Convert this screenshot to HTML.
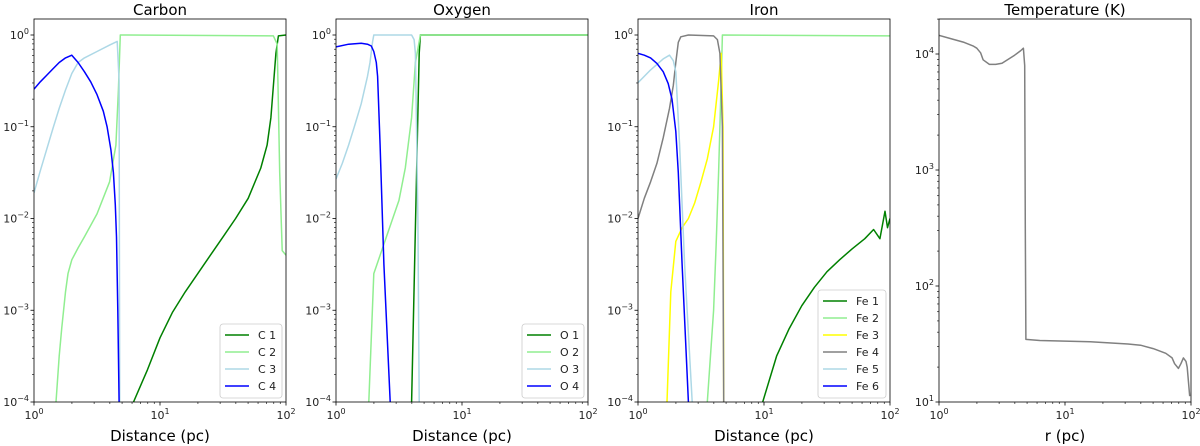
<!DOCTYPE html>
<html><head><meta charset="utf-8"><style>
body{margin:0;background:#fff;}
svg{display:block;font-family:"DejaVu Sans","Liberation Sans",sans-serif;}
</style></head><body>
<svg id="fig" width="1200" height="446" viewBox="0 0 1200 446"></svg>
<script>
// ---- data (x as log10 distance, y as log10 value) ----
const carbonNames = ["C 1","C 2","C 3","C 4"];
const c1x=[0.79,0.9,1.0,1.1,1.2,1.3,1.4,1.5,1.6,1.7,1.8,1.85,1.88,1.9,1.92,1.94,2];
const c1y=[-4,-3.65,-3.3,-3.02,-2.8,-2.6,-2.4,-2.2,-2.0,-1.78,-1.45,-1.2,-0.9,-0.55,-0.2,-0.01,0];
const c2x=[0.175,0.2,0.22,0.25,0.27,0.3,0.35,0.4,0.5,0.6,0.65,0.67,0.685,1.9,1.93,1.95,1.97,2];
const c2y=[-4,-3.5,-3.2,-2.8,-2.6,-2.45,-2.32,-2.2,-1.95,-1.6,-1.2,-0.6,0,-0.01,-0.1,-1.5,-2.35,-2.4];
const c3x=[0,0.05,0.1,0.15,0.2,0.25,0.3,0.35,0.4,0.5,0.6,0.66,0.675,0.68];
const c3y=[-1.72,-1.48,-1.25,-1.02,-0.8,-0.6,-0.42,-0.3,-0.25,-0.18,-0.11,-0.07,-0.5,-4];
const c4x=[0,0.05,0.1,0.15,0.2,0.25,0.30,0.35,0.40,0.45,0.50,0.55,0.58,0.61,0.63,0.645,0.655,0.665,0.675];
const c4y=[-0.59,-0.51,-0.44,-0.37,-0.3,-0.25,-0.22,-0.3,-0.40,-0.51,-0.65,-0.83,-1.0,-1.25,-1.5,-1.85,-2.2,-3,-4];

const oxyNames = ["O 1","O 2","O 3","O 4"];
const o1x=[0.6,0.64,0.66,0.67,2]; const o1y=[-4,-1.5,-0.2,0,0];
const o2x=[0.26,0.3,0.35,0.4,0.5,0.55,0.6,0.63,0.67,2]; const o2y=[-4,-2.6,-2.4,-2.2,-1.8,-1.45,-0.9,-0.3,0,0];
const o3x=[0,0.05,0.1,0.15,0.2,0.25,0.27,0.29,0.3,0.6,0.62,0.63,0.65,0.66]; const o3y=[-1.57,-1.4,-1.2,-0.98,-0.75,-0.45,-0.3,-0.08,0,0,-0.05,-0.2,-2,-4];
const o4x=[0,0.1,0.2,0.25,0.28,0.3,0.32,0.33,0.35,0.38,0.43]; const o4y=[-0.13,-0.1,-0.09,-0.1,-0.12,-0.18,-0.3,-0.45,-1.2,-2.5,-4];

const ironNames = ["Fe 1","Fe 2","Fe 3","Fe 4","Fe 5","Fe 6"];
const fe1x=[0.99,1.1,1.2,1.3,1.4,1.5,1.6,1.7,1.8,1.87,1.92,1.96,1.98,2]; const fe1y=[-4,-3.5,-3.2,-2.95,-2.75,-2.58,-2.45,-2.33,-2.22,-2.12,-2.22,-1.92,-2.1,-2.0];
const fe2x=[0.55,0.6,0.62,0.64,0.66,0.67,2]; const fe2y=[-4,-3,-2.3,-1.5,-0.5,0,-0.01];
const fe3x=[0.23,0.26,0.3,0.35,0.4,0.45,0.5,0.55,0.6,0.64,0.66,0.675,0.68]; const fe3y=[-4,-2.8,-2.25,-2.1,-2.0,-1.83,-1.6,-1.35,-1.0,-0.5,-0.2,-1,-4];
const fe4x=[0,0.05,0.1,0.15,0.2,0.25,0.28,0.3,0.32,0.34,0.4,0.6,0.63,0.65,0.67,0.68]; const fe4y=[-2,-1.78,-1.6,-1.4,-1.12,-0.8,-0.55,-0.3,-0.08,-0.02,0,-0.01,-0.05,-0.2,-1,-4];
const fe5x=[0,0.1,0.15,0.2,0.25,0.28,0.3,0.33,0.37,0.43]; const fe5y=[-0.52,-0.38,-0.32,-0.26,-0.22,-0.28,-0.4,-1.2,-2.5,-4];
const fe6x=[0,0.05,0.1,0.15,0.2,0.24,0.27,0.3,0.32,0.35,0.4]; const fe6y=[-0.2,-0.22,-0.25,-0.31,-0.4,-0.53,-0.7,-1.05,-1.5,-2.5,-4];

const tempx=[0,0.1,0.2,0.27,0.3,0.33,0.35,0.4,0.45,0.5,0.6,0.65,0.67,0.68,0.685,0.69,0.8,1.2,1.5,1.6,1.7,1.8,1.85,1.87,1.9,1.92,1.94,1.96,1.97,1.99];
const tempy=[4.16,4.13,4.1,4.07,4.05,4.01,3.95,3.91,3.91,3.92,3.99,4.03,4.05,3.9,2.5,1.54,1.53,1.52,1.5,1.49,1.46,1.42,1.38,1.33,1.29,1.33,1.38,1.35,1.3,1.05];

const NS="http://www.w3.org/2000/svg";
const svg=document.getElementById('fig');
function mk(tag,attrs,parent){const e=document.createElementNS(NS,tag);for(const k in attrs)e.setAttribute(k,attrs[k]);(parent||svg).appendChild(e);return e;}
function sup(t,base,exp){t.textContent='';const a=document.createElementNS(NS,'tspan');a.textContent=base;t.appendChild(a);const b=document.createElementNS(NS,'tspan');b.setAttribute('dy','-5');b.setAttribute('font-size','8');b.textContent=exp;t.appendChild(b);}

function panel(o){
  const g=mk('g',{});
  
  
  const L=o.left,R=o.left+252,T=19,B=402;
  const sx=lx=>L+lx/2*(R-L);
  const sy=ly=>o.y0-(ly-o.d0)*o.dec;
  const cid='clip-'+o.name;
  const cp=mk('clipPath',{id:cid},g);mk('rect',{x:L,y:T,width:R-L,height:B-T},cp);
  const lines=mk('g',{'clip-path':'url(#'+cid+')'},g);
  o.series.forEach(s=>{
    const d=s.x.map((v,i)=>(i?'L':'M')+sx(v).toFixed(1)+','+sy(s.y[i]).toFixed(1)).join(' ');
    const p=mk('path',{d:d,fill:'none',stroke:s.c,'stroke-width':1.5,'stroke-linejoin':'round'},lines);
    
    
  });
  mk('rect',{x:L,y:T,width:R-L,height:B-T,fill:'none',stroke:'#000','stroke-width':0.8},g);
  for(let dd=0;dd<=2;dd++){
    const x=sx(dd);mk('line',{x1:x,x2:x,y1:B,y2:B+3.5,stroke:'#000','stroke-width':0.8},g);
    const t=mk('text',{x:x,y:B+17,'text-anchor':'middle','font-size':11,fill:'#222'},g);sup(t,'10',String(dd));
    
    if(dd<2)for(let m=2;m<10;m++){const xm=sx(dd+Math.log10(m));mk('line',{x1:xm,x2:xm,y1:B,y2:B+2,stroke:'#000','stroke-width':0.6},g);}
  }
  o.yt.forEach(v=>{
    const y=sy(v);
    if(y>=T-0.5&&y<=B+0.5){mk('line',{x1:L-3.5,x2:L,y1:y,y2:y,stroke:'#000','stroke-width':0.8},g);
    const t=mk('text',{x:L-5,y:y+4,'text-anchor':'end','font-size':11,fill:'#222'},g);sup(t,'10',v<0?'\u2212'+(-v):String(v));
    }
    for(let m=2;m<10;m++){const ym=sy(v+Math.log10(m));if(ym>=T&&ym<=B)mk('line',{x1:L-2,x2:L,y1:ym,y2:ym,stroke:'#000','stroke-width':0.6},g);}
  });
  const tt=mk('text',{x:(L+R)/2,y:15,'text-anchor':'middle','font-size':15,fill:'#000'},g);tt.textContent=o.title;
  
  const xl=mk('text',{x:(L+R)/2,y:441,'text-anchor':'middle','font-size':15,fill:'#000'},g);xl.textContent=o.xlabel;
  
  if(o.legend){
    const n=o.series.length,h=n*17+6,w=o.lw;
    const lg=mk('g',{},g);
    
    mk('rect',{x:R-4-w,y:B-4-h,width:w,height:h,rx:3,fill:'#fff','fill-opacity':0.85,stroke:'#ccc','stroke-width':0.8},lg);
    o.series.forEach((s,i)=>{
      const y=B-4-h+11+i*17;
      mk('line',{x1:R-w+1,x2:R-w+25,y1:y,y2:y,stroke:s.c,'stroke-width':1.5},lg);
      const t=mk('text',{x:R-w+34,y:y+4,'font-size':11,fill:'#222'},lg);t.textContent=s.n;
      
    });
  }
}
const G='#008000',LG='#90ee90',LB='#add8e6',BL='#0000ff',Y='#ffff00',GR='#808080';
panel({name:'carbon',title:'Carbon',xlabel:'Distance (pc)',left:34,y0:35,d0:0,dec:91.75,yt:[0,-1,-2,-3,-4],legend:true,lw:62,
 series:[{n:carbonNames[0],x:c1x,y:c1y,c:G},{n:carbonNames[1],x:c2x,y:c2y,c:LG},{n:carbonNames[2],x:c3x,y:c3y,c:LB},{n:carbonNames[3],x:c4x,y:c4y,c:BL}]});
panel({name:'oxygen',title:'Oxygen',xlabel:'Distance (pc)',left:336,y0:35,d0:0,dec:91.75,yt:[0,-1,-2,-3,-4],legend:true,lw:62,
 series:[{n:oxyNames[0],x:o1x,y:o1y,c:G},{n:oxyNames[1],x:o2x,y:o2y,c:LG},{n:oxyNames[2],x:o3x,y:o3y,c:LB},{n:oxyNames[3],x:o4x,y:o4y,c:BL}]});
panel({name:'iron',title:'Iron',xlabel:'Distance (pc)',left:638,y0:35,d0:0,dec:91.75,yt:[0,-1,-2,-3,-4],legend:true,lw:68,
 series:[{n:ironNames[0],x:fe1x,y:fe1y,c:G},{n:ironNames[1],x:fe2x,y:fe2y,c:LG},{n:ironNames[2],x:fe3x,y:fe3y,c:Y},{n:ironNames[3],x:fe4x,y:fe4y,c:GR},{n:ironNames[4],x:fe5x,y:fe5y,c:LB},{n:ironNames[5],x:fe6x,y:fe6y,c:BL}]});
panel({name:'temperature',title:'Temperature (K)',xlabel:'r (pc)',left:939,y0:54,d0:4,dec:116,yt:[4,3,2,1],legend:false,
 series:[{n:'temperature',x:tempx,y:tempy,c:GR}]});
</script>
</body></html>
